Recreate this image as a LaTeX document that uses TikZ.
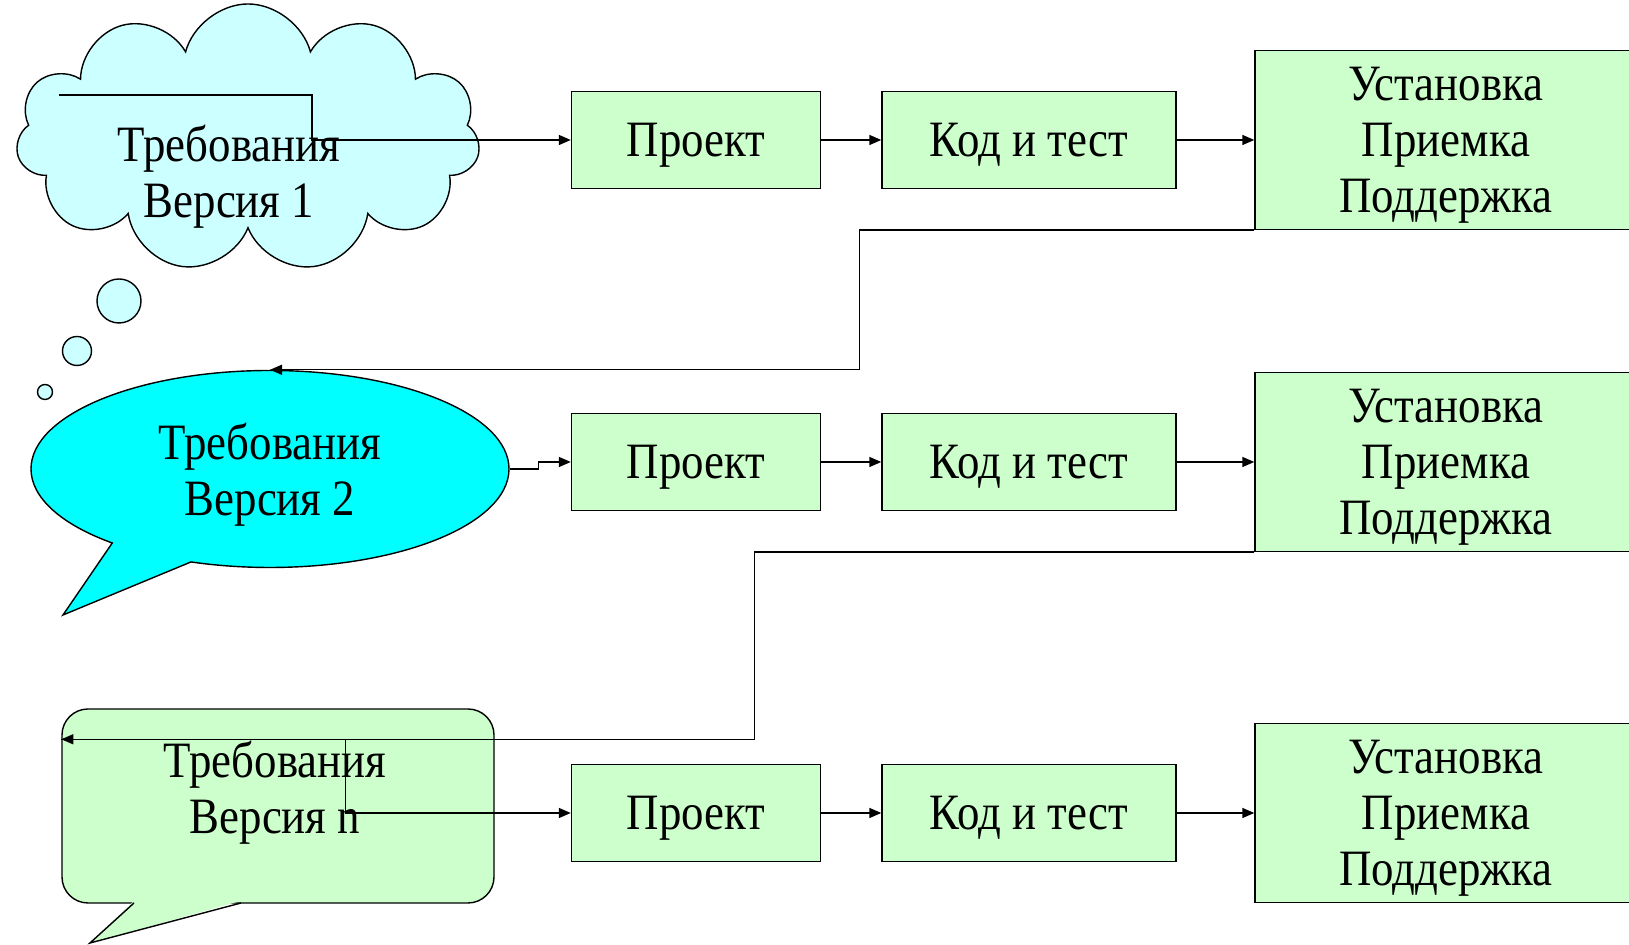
\documentclass[tikz,border=0pt]{standalone}
\usepackage{fontspec}
\setmainfont{Liberation Serif}[FakeStretch=0.88]
\usetikzlibrary{shapes.symbols,shapes.callouts,arrows.meta}

\begin{document}
\begin{tikzpicture}[thin, font=\fontsize{14.5}{16}\selectfont]

  % Define Colors
  \definecolor{palegreen}{RGB}{204,255,204}
  \definecolor{paleblue}{RGB}{204,255,255}
  \definecolor{brightcyan}{RGB}{0,255,255}

  % Node styles
  \tikzstyle{proj}=[rectangle, draw, fill=palegreen, minimum width=2.49cm, minimum height=0.97cm, inner sep=0pt, text depth=0pt]
  \tikzstyle{code}=[rectangle, draw, fill=palegreen, minimum width=2.94cm, minimum height=0.97cm, inner sep=0pt, text depth=0pt]
  \tikzstyle{inst}=[rectangle, draw, fill=palegreen, minimum width=3.82cm, minimum height=1.79cm, inner sep=0pt, align=center, text depth=0pt]
  \tikzstyle{bubble}=[circle, draw, fill=paleblue, inner sep=0pt]
  \tikzstyle{reqtext}=[align=center, inner sep=0pt, text depth=0pt]

  \tikzstyle{flow}=[-{Triangle[length=1.2mm,width=1mm]}]

  \useasboundingbox (0,0) rectangle (16.29,9.45);

  % Requirements
  \node[cloud, draw, fill=paleblue, cloud puffs=11, cloud ignores aspect, minimum width=4.64cm, minimum height=2.68cm] (cloud1) at (2.48,8.07) {};
  \node[reqtext] (req1) at (2.29,7.74) {Требования\\Версия 1};
  \node[bubble, minimum size=0.44cm] (bub1) at (1.19,6.44) {};
  \node[bubble, minimum size=0.29cm] (bub2) at (0.77,5.94) {};
  \node[bubble, minimum size=0.15cm] (bub3) at (0.45,5.53) {};

  \node[ellipse callout, draw, fill=brightcyan, minimum width=4.78cm, minimum height=1.97cm, callout absolute pointer={(0.63,3.30)}, callout pointer arc=22, align=center, text depth=0pt] (req2) at (2.70,4.76) {Требования\\Версия 2};

  \node[rectangle, draw, fill=palegreen, rounded corners=0.26cm, minimum width=4.32cm, minimum height=1.94cm] (box3) at (2.78,1.39) {};
  \coordinate (t3a) at (1.34,0.42);
  \coordinate (t3b) at (2.41,0.42);
  \coordinate (tip3) at (0.90,0.02);
  \fill[palegreen] ([yshift=0.6pt]t3a) -- (tip3) -- ([yshift=0.6pt]t3b) -- cycle;
  \draw (t3a) -- (tip3) -- (t3b);
  \node[reqtext] (req3) at (2.75,1.58) {Требования\\Версия n};

  % Stages
  \node[proj] (p1) at (6.96,8.05) {Проект};
  \node[code] (c1) at (10.29,8.05) {Код и тест};
  \node[inst] (u1) at (14.46,8.05) {Установка\\Приемка\\Поддержка};

  \node[proj] (p2) at (6.96,4.83) {Проект};
  \node[code] (c2) at (10.29,4.83) {Код и тест};
  \node[inst] (u2) at (14.46,4.83) {Установка\\Приемка\\Поддержка};

  \node[proj] (p3) at (6.96,1.32) {Проект};
  \node[code] (c3) at (10.29,1.32) {Код и тест};
  \node[inst] (u3) at (14.46,1.32) {Установка\\Приемка\\Поддержка};

  % Version 1 links
  \coordinate (s1) at (0.59,8.50);
  \draw[flow] (s1) -- ++(2.53,0) |- (p1.west);
  \draw[flow] (p1) -- (c1);
  \draw[flow] (c1) -- (u1);
  \draw[flow] (u1.south west) -- ++(-3.95,0) |- (req2.north);

  % Version 2 links
  \draw[flow] (req2.east) -- ++(0.29,0) |- (p2.west);
  \draw[flow] (p2) -- (c2);
  \draw[flow] (c2) -- (u2);
  \coordinate (e3) at ([yshift=-0.31cm]box3.north west);
  \draw[flow] (u2.south west) -- ++(-5.0,0) |- (e3);

  % Version n links
  \draw[flow] (e3) -- ++(2.84,0) |- (p3.west);
  \draw[flow] (p3) -- (c3);
  \draw[flow] (c3) -- (u3);

\end{tikzpicture}
\end{document}
